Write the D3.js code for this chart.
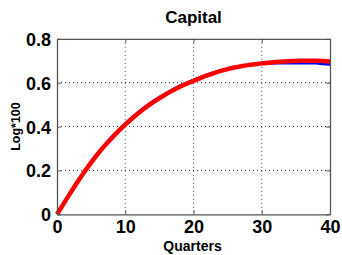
<!DOCTYPE html>
<html>
<head>
<meta charset="utf-8">
<script src="https://cdn.jsdelivr.net/npm/d3@7"></script>
<style>
  html, body { margin: 0; padding: 0; background: #fff; }
  svg { display: block; font-family: "Liberation Sans", Arial, sans-serif; }
</style>
</head>
<body>
<svg id="svg" width="342" height="255"></svg>
<script>
// quarters 0..40
const quarters = d3.range(0, 41);
// red series (thick)
const redVals = [0.000, 0.050, 0.099, 0.147, 0.193, 0.236, 0.276, 0.313, 0.347, 0.379,
                 0.409, 0.437, 0.463, 0.487, 0.509, 0.529, 0.548, 0.565, 0.581, 0.595,
                 0.608, 0.621, 0.633, 0.644, 0.654, 0.662, 0.669, 0.675, 0.680, 0.684,
                 0.688, 0.691, 0.694, 0.696, 0.698, 0.699, 0.700, 0.700, 0.700, 0.699, 0.697];
// blue series (thin, mostly hidden under red)
const blueVals = [0.000, 0.052, 0.103, 0.152, 0.198, 0.241, 0.281, 0.318, 0.352, 0.384,
                  0.414, 0.442, 0.468, 0.492, 0.514, 0.534, 0.553, 0.570, 0.586, 0.600,
                  0.613, 0.625, 0.637, 0.647, 0.656, 0.664, 0.670, 0.675, 0.679, 0.683,
                  0.686, 0.687, 0.688, 0.688, 0.688, 0.688, 0.689, 0.689, 0.688, 0.685, 0.683];
const xTicks = [0, 10, 20, 30, 40];
const yTicks = [0, 0.2, 0.4, 0.6, 0.8];
const yTickLabels = ["0", "0.2", "0.4", "0.6", "0.8"];

const svg = d3.select("#svg");
const pLeft = 57, pRight = 330, pTop = 38.8, pBottom = 214.3;

const x = d3.scaleLinear().domain([0, 40]).range([pLeft, pRight]);
const y = d3.scaleLinear().domain([0, 0.8]).range([pBottom, pTop]);

// grid
svg.append("g").selectAll("line")
   .data(xTicks.slice(1, -1)).join("line")
   .attr("x1", d => x(d)).attr("x2", d => x(d))
   .attr("y1", pTop).attr("y2", pBottom)
   .attr("stroke", "#444").attr("stroke-width", 1)
   .attr("stroke-dasharray", "1,3");
svg.append("g").selectAll("line")
   .data(yTicks.slice(1, -1)).join("line")
   .attr("x1", pLeft).attr("x2", pRight)
   .attr("y1", d => y(d)).attr("y2", d => y(d))
   .attr("stroke", "#222").attr("stroke-width", 1)
   .attr("stroke-dasharray", "1,3");

// lines
const line = vals => d3.line()
   .x((d, i) => x(quarters[i]))
   .y(d => y(d))
   .curve(d3.curveMonotoneX)(vals);

svg.append("path").attr("d", line(blueVals))
   .attr("fill", "none").attr("stroke", "#0000ff").attr("stroke-width", 2.5);
svg.append("path").attr("d", line(redVals))
   .attr("fill", "none").attr("stroke", "#ff0000").attr("stroke-width", 4.5)
   .attr("stroke-linejoin", "round");

// axes with inward ticks (matlab style)
const ax = svg.append("g").attr("transform", `translate(0,${pBottom})`)
   .call(d3.axisBottom(x).tickValues(xTicks).tickSizeInner(-4).tickSizeOuter(0).tickPadding(8));
const axTop = svg.append("g").attr("transform", `translate(0,${pTop})`)
   .call(d3.axisTop(x).tickValues(xTicks).tickSizeInner(-4).tickSizeOuter(0).tickFormat(""));
const ay = svg.append("g").attr("transform", `translate(${pLeft},0)`)
   .call(d3.axisLeft(y).tickValues(yTicks).tickSizeInner(-4).tickSizeOuter(0).tickPadding(6)
   .tickFormat((d, i) => yTickLabels[i]));
const ayR = svg.append("g").attr("transform", `translate(${pRight},0)`)
   .call(d3.axisRight(y).tickValues(yTicks).tickSizeInner(-4).tickSizeOuter(0).tickFormat(""));

[ax, axTop, ay, ayR].forEach(g => {
  g.select(".domain").attr("stroke", "#555").attr("stroke-width", 1.3);
  g.selectAll(".tick line").attr("stroke", "#555");
  g.selectAll("text").attr("fill", "#000")
   .style("font-family", "'Liberation Sans', Arial, sans-serif")
   .style("font-weight", "bold").style("font-size", "18px");
});
ax.selectAll("text").attr("dy", "0.71em").attr("y", 6);
ay.selectAll("text").attr("dy", "0.36em");

// titles
svg.append("text").attr("x", (pLeft + pRight) / 2).attr("y", 23)
   .attr("text-anchor", "middle").style("font-weight", "bold").style("font-size", "17px")
   .text("Capital");
svg.append("text").attr("x", (pLeft + pRight) / 2 - 1).attr("y", 251)
   .attr("text-anchor", "middle").style("font-weight", "bold").style("font-size", "14px")
   .text("Quarters");
svg.append("text")
   .attr("transform", `translate(19.5,${(pTop + pBottom) / 2}) rotate(-90)`)
   .attr("text-anchor", "middle").style("font-weight", "bold").style("font-size", "12.5px")
   .text("Log*100");
</script>
</body>
</html>
